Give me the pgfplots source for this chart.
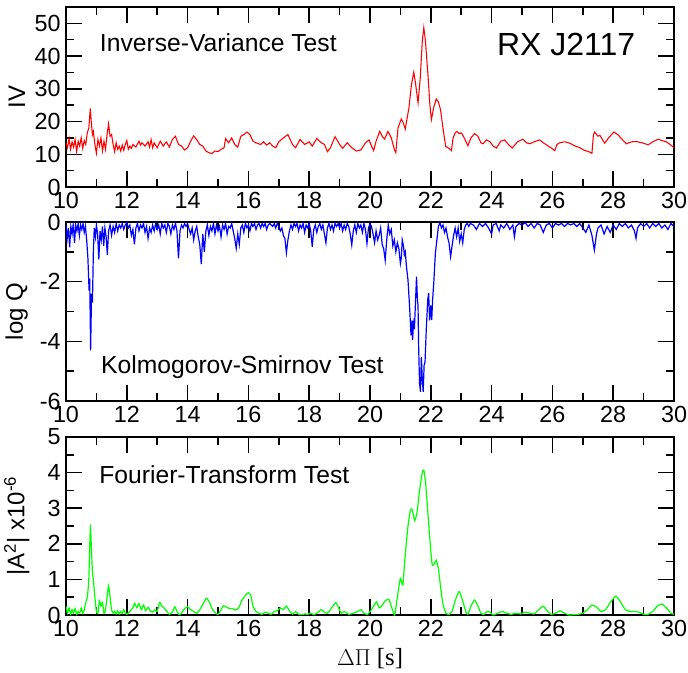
\documentclass[border=0pt]{standalone}
\usepackage{fontspec}
\setmainfont{Liberation Sans}
\newfontfamily\serif{Liberation Serif}
\usepackage{pgfplots}
\pgfplotsset{compat=1.18}

\pgfplotsset{
  panel/.style={
    scale only axis, width=456pt,
    xmin=10, xmax=30,
    xtick={10,12,...,30}, minor xtick={11,13,...,29},
    tick align=inside, major tick length=12pt, minor tick length=6pt,
    line width=1.4pt,
    tick style={line width=1.1pt, black},
    tick label style={font=\fontsize{17.5}{17.5}\selectfont},
    /pgf/number format/assume math mode=true,
    ylabel style={at={(axis description cs:-0.081,0.5)}, anchor=center,
      font=\fontsize{18}{18}\selectfont},
    anchor=north west,
  },
}
\tikzset{note/.style={anchor=west, font=\fontsize{18.5}{18.5}\selectfont}}

\begin{document}
\begin{tikzpicture}
\useasboundingbox (-49.5pt,5.25pt) rectangle (466.5pt,-499.5pt);

% Inverse-variance
\begin{axis}[panel, at={(0,0)}, height=135pt,
  ymin=0, ymax=55, ytick={0,10,...,50}, minor ytick={5,15,...,45},
  ylabel={IV}]
\addplot[red, line width=0.8pt] coordinates {
(10.00,13.5) (10.05,12.0) (10.10,14.8) (10.15,11.5) (10.20,13.8) (10.25,12.2)
(10.30,14.5) (10.35,10.8) (10.40,14.0) (10.45,12.5) (10.50,15.0) (10.55,11.8)
(10.60,14.2) (10.65,13.0) (10.70,16.5) (10.75,18.0) (10.80,24.0) (10.83,20.0)
(10.87,16.0) (10.90,17.0) (10.95,13.0) (11.00,10.3) (11.05,14.5) (11.10,12.5)
(11.15,15.0) (11.20,11.0) (11.25,14.0) (11.30,11.5) (11.35,16.0) (11.40,19.3)
(11.45,15.5) (11.50,16.0) (11.55,13.0) (11.60,10.8) (11.65,13.5) (11.70,11.5)
(11.75,12.5) (11.80,11.0) (11.85,12.8) (11.90,11.2) (11.95,13.0) (12.00,14.2)
(12.05,11.5) (12.10,12.5) (12.15,11.8) (12.20,13.0) (12.30,12.2) (12.40,14.0)
(12.45,12.8) (12.50,13.5) (12.60,12.5) (12.70,13.8) (12.75,12.2) (12.80,14.5)
(12.85,12.0) (12.90,13.5) (13.00,12.0) (13.10,14.0) (13.20,12.5) (13.30,13.8)
(13.40,12.2) (13.50,14.5) (13.60,15.5) (13.70,13.0) (13.80,12.5) (13.90,11.3)
(14.00,12.0) (14.10,14.0) (14.20,15.6) (14.30,14.5) (14.40,13.0) (14.50,12.5)
(14.60,11.0) (14.70,10.5) (14.80,10.2) (14.90,11.0) (15.00,10.8) (15.10,11.5)
(15.20,12.0) (15.25,14.8) (15.35,13.5) (15.45,15.0) (15.55,13.0) (15.65,12.2)
(15.75,15.5) (15.85,16.0) (15.95,16.8) (16.05,16.0) (16.15,14.0) (16.25,13.5)
(16.40,13.0) (16.50,13.8) (16.60,12.8) (16.70,13.5) (16.80,12.5) (16.90,12.0)
(17.00,13.8) (17.15,15.0) (17.30,16.0) (17.45,13.0) (17.55,12.0) (17.70,14.5)
(17.85,13.0) (18.00,13.8) (18.10,12.5) (18.25,14.8) (18.40,13.5) (18.50,13.0)
(18.60,10.8) (18.70,12.0) (18.85,15.4) (19.00,13.0) (19.10,11.8) (19.25,13.5)
(19.40,12.0) (19.55,11.0) (19.70,11.3) (19.85,13.5) (19.97,14.4) (20.05,12.5)
(20.12,11.1) (20.20,14.0) (20.32,17.0) (20.40,15.5) (20.48,14.6) (20.59,17.0)
(20.70,15.0) (20.80,11.5) (20.85,10.5) (20.92,18.0) (21.03,20.8) (21.10,19.5)
(21.16,17.7) (21.22,21.0) (21.28,24.1) (21.36,31.0) (21.44,35.1) (21.50,31.5)
(21.58,25.7) (21.65,33.0) (21.72,44.5) (21.77,48.7) (21.82,45.0) (21.91,33.8)
(21.97,25.0) (22.02,20.6) (22.10,24.5) (22.18,26.9) (22.25,26.0) (22.32,23.6)
(22.40,18.0) (22.49,12.4) (22.60,11.8) (22.68,11.1) (22.73,14.9) (22.80,16.5)
(22.86,17.0) (22.93,16.3) (23.01,16.5) (23.10,15.0) (23.22,12.6) (23.32,15.0)
(23.44,16.3) (23.55,15.5) (23.65,13.5) (23.72,13.2) (23.83,14.4) (23.95,13.8)
(24.05,12.5) (24.16,11.9) (24.30,14.0) (24.43,14.4) (24.55,13.0) (24.68,11.9)
(24.85,13.8) (25.03,14.6) (25.15,13.5) (25.25,13.2) (25.40,13.8) (25.58,14.4)
(25.70,13.5) (25.80,12.9) (25.95,12.0) (26.08,11.1) (26.15,13.0) (26.24,13.5)
(26.40,13.8) (26.57,13.4) (26.75,12.5) (26.90,12.0) (27.05,11.2) (27.20,10.8)
(27.30,10.3) (27.35,16.0) (27.39,16.8) (27.50,15.5) (27.56,15.8) (27.72,13.4)
(27.85,15.0) (28.02,16.8) (28.15,16.0) (28.30,14.5) (28.43,13.2) (28.60,13.8)
(28.76,13.9) (28.95,13.5) (29.15,12.9) (29.30,13.8) (29.48,14.6) (29.60,14.2)
(29.75,13.8) (29.90,12.8) (30.00,12.0)
};
\node[note] at (rel axis cs:0.047,0.80) {Inverse-Variance Test};
\node[anchor=east, font=\fontsize{24}{24}\selectfont] at (rel axis cs:0.945,0.79) {RX J2117};
\end{axis}

% Kolmogorov-Smirnov
\begin{axis}[panel, at={(0,-161.25pt)}, height=134.25pt,
  ymin=-6, ymax=0, ytick={-6,-4,-2,0}, minor ytick={-5,-3,-1},
  ylabel={log Q}]
\addplot[blue, line width=0.9pt] coordinates {
(10.00,-0.10) (10.04,-0.55) (10.08,-0.20) (10.12,-0.85) (10.16,-0.15) (10.20,-0.40)
(10.24,-0.05) (10.28,-0.70) (10.32,-0.10) (10.36,-0.30) (10.40,-0.05) (10.44,-0.45)
(10.48,-0.10) (10.52,-0.25) (10.56,-0.05) (10.60,-0.35) (10.64,-0.15) (10.68,-0.60)
(10.72,-1.20) (10.76,-2.30) (10.78,-1.90) (10.81,-4.30) (10.84,-2.40) (10.87,-2.70)
(10.90,-1.00) (10.93,-0.20) (10.97,-0.50) (11.00,-0.10) (11.04,-0.40) (11.08,-1.25)
(11.12,-0.30) (11.16,-0.60) (11.20,-0.15) (11.24,-0.80) (11.28,-0.20) (11.32,-0.50)
(11.36,-1.10) (11.40,-0.30) (11.45,-0.10) (11.50,-0.45) (11.55,-0.15) (11.60,-0.35)
(11.65,-0.05) (11.70,-0.30) (11.75,-0.10) (11.80,-0.20) (11.85,-0.05) (11.90,-0.25)
(11.95,-0.10) (12.00,-0.02) (12.05,-0.20) (12.10,-0.10) (12.15,-0.45) (12.20,-0.25)
(12.25,-0.75) (12.30,-0.20) (12.35,-0.05) (12.40,-0.30) (12.45,-0.10) (12.50,-0.20)
(12.55,-0.05) (12.60,-0.35) (12.65,-0.15) (12.70,-0.55) (12.75,-0.20) (12.80,-0.35)
(12.85,-0.10) (12.90,-0.30) (12.95,-0.05) (13.00,-0.25) (13.05,-0.10) (13.10,-0.40)
(13.15,-0.05) (13.20,-0.20) (13.25,-0.10) (13.30,-0.35) (13.35,-0.05) (13.40,-0.15)
(13.45,-0.40) (13.50,-0.10) (13.55,-0.25) (13.60,-0.05) (13.65,-0.30) (13.70,-1.22)
(13.75,-0.30) (13.80,-0.10) (13.85,-0.20) (13.90,-0.05) (13.95,-0.15) (14.00,-0.05)
(14.05,-0.25) (14.10,-0.40) (14.15,-0.20) (14.20,-0.60) (14.25,-0.30) (14.30,-0.15)
(14.35,-0.50) (14.40,-0.75) (14.45,-1.41) (14.50,-0.40) (14.55,-1.00) (14.60,-0.30)
(14.65,-0.10) (14.70,-0.45) (14.75,-0.15) (14.80,-0.30) (14.85,-0.05) (14.90,-0.40)
(14.95,-0.10) (15.00,-0.30) (15.05,-0.15) (15.10,-0.50) (15.15,-0.10) (15.20,-0.25)
(15.25,-0.05) (15.30,-0.40) (15.35,-0.15) (15.40,-0.20) (15.45,-0.05) (15.50,-0.30)
(15.55,-0.55) (15.60,-0.88) (15.65,-0.40) (15.70,-0.75) (15.75,-0.20) (15.80,-0.10)
(15.85,-0.35) (15.90,-0.05) (15.95,-0.20) (16.00,-0.10) (16.05,-0.30) (16.10,-0.05)
(16.15,-0.15) (16.20,-0.05) (16.25,-0.25) (16.30,-0.10) (16.35,-0.05) (16.40,-0.20)
(16.45,-0.05) (16.50,-0.15) (16.55,-0.05) (16.60,-0.25) (16.65,-0.10) (16.70,-0.05)
(16.80,-0.15) (16.85,-0.05) (16.90,-0.20) (16.95,-0.05) (17.00,-0.15) (17.05,-0.30)
(17.10,-0.20) (17.15,-0.45) (17.20,-0.55) (17.25,-1.03) (17.30,-0.60) (17.35,-0.30)
(17.40,-0.10) (17.45,-0.25) (17.50,-0.05) (17.55,-0.15) (17.60,-0.05) (17.65,-0.30)
(17.70,-0.10) (17.75,-0.20) (17.80,-0.05) (17.85,-0.35) (17.90,-0.10) (17.95,-0.20)
(18.00,-0.05) (18.05,-0.30) (18.10,-0.83) (18.15,-0.25) (18.20,-0.10) (18.25,-0.35)
(18.30,-0.15) (18.35,-0.05) (18.40,-0.25) (18.45,-0.10) (18.50,-0.40) (18.55,-0.70)
(18.60,-0.20) (18.65,-0.05) (18.70,-0.25) (18.75,-0.10) (18.80,-0.30) (18.85,-0.05)
(18.90,-0.15) (18.95,-0.05) (19.00,-0.20) (19.05,-0.05) (19.10,-0.30) (19.15,-0.10)
(19.20,-0.25) (19.25,-0.05) (19.30,-0.15) (19.35,-0.40) (19.40,-0.77) (19.45,-0.30)
(19.50,-0.10) (19.55,-0.35) (19.60,-0.05) (19.65,-0.20) (19.70,-0.10) (19.75,-0.35)
(19.80,-0.05) (19.85,-0.25) (19.90,-0.72) (19.95,-0.20) (20.00,-0.05) (20.05,-0.15)
(20.10,-0.40) (20.15,-0.70) (20.20,-0.30) (20.25,-0.60) (20.30,-0.45) (20.35,-0.20)
(20.40,-0.75) (20.45,-0.90) (20.50,-1.28) (20.55,-0.60) (20.60,-0.10) (20.65,-0.40)
(20.70,-0.25) (20.75,-0.80) (20.80,-0.60) (20.85,-1.00) (20.90,-0.70) (20.95,-0.90)
(21.00,-1.39) (21.03,-1.20) (21.06,-0.60) (21.10,-0.80) (21.13,-1.10) (21.16,-1.00)
(21.20,-1.50) (21.25,-1.95) (21.30,-2.80) (21.35,-3.80) (21.38,-3.30) (21.40,-3.96)
(21.43,-3.40) (21.46,-3.60) (21.50,-2.60) (21.53,-1.83) (21.56,-2.60) (21.58,-2.80)
(21.60,-4.20) (21.63,-5.41) (21.66,-5.69) (21.69,-4.52) (21.72,-5.30) (21.75,-5.69)
(21.78,-4.80) (21.81,-4.70) (21.85,-3.62) (21.90,-2.60) (21.93,-2.39) (21.96,-3.30)
(22.00,-2.80) (22.03,-3.29) (22.06,-2.60) (22.10,-2.00) (22.15,-1.05) (22.20,-0.60)
(22.25,-0.15) (22.30,-0.02) (22.35,-0.20) (22.40,-0.10) (22.45,-0.35) (22.50,-0.20)
(22.55,-0.50) (22.60,-0.70) (22.65,-1.16) (22.70,-0.80) (22.75,-0.45) (22.80,-0.20)
(22.85,-0.50) (22.90,-0.20) (22.95,-0.65) (23.00,-0.40) (23.05,-0.70) (23.10,-0.25)
(23.15,-0.10) (23.20,-0.05) (23.25,-0.15) (23.30,-0.05) (23.40,-0.10) (23.50,-0.25)
(23.60,-0.05) (23.70,-0.15) (23.80,-0.05) (23.90,-0.20) (24.00,-0.40) (24.05,-0.10)
(24.15,-0.05) (24.25,-0.30) (24.30,-0.10) (24.40,-0.20) (24.50,-0.05) (24.60,-0.25)
(24.70,-0.10) (24.75,-0.50) (24.80,-0.15) (24.90,-0.05) (25.00,-0.10) (25.10,-0.02)
(25.20,-0.15) (25.30,-0.05) (25.40,-0.20) (25.50,-0.05) (25.60,-0.10) (25.70,-0.35)
(25.80,-0.10) (25.90,-0.05) (26.00,-0.20) (26.10,-0.05) (26.20,-0.10) (26.30,-0.05)
(26.40,-0.15) (26.50,-0.05) (26.60,-0.10) (26.70,-0.05) (26.80,-0.15) (26.90,-0.05)
(27.00,-0.20) (27.10,-0.35) (27.20,-0.10) (27.30,-0.45) (27.38,-0.94) (27.45,-0.40)
(27.50,-0.20) (27.60,-0.10) (27.70,-0.40) (27.80,-0.15) (27.90,-0.35) (28.00,-0.10)
(28.10,-0.25) (28.20,-0.05) (28.30,-0.15) (28.40,-0.05) (28.50,-0.20) (28.60,-0.10)
(28.70,-0.30) (28.75,-0.55) (28.80,-0.20) (28.90,-0.05) (29.00,-0.15) (29.10,-0.05)
(29.20,-0.20) (29.30,-0.05) (29.40,-0.15) (29.50,-0.05) (29.60,-0.20) (29.70,-0.10)
(29.80,-0.25) (29.90,-0.05) (30.00,-0.15)
};
\node[note] at (rel axis cs:0.049,0.19) {Kolmogorov-Smirnov Test};
\end{axis}

% Fourier transform
\begin{axis}[panel, at={(0,-322.5pt)}, height=133.5pt,
  ymin=0, ymax=5, ytick={0,1,...,5}, minor ytick={0.5,1.5,...,4.5},
  ylabel={|A\textsuperscript{2}| x10\textsuperscript{-6}},
  xlabel={{\serif $\Delta\Pi$ [s]}},
  xlabel style={font=\fontsize{18.5}{18.5}\selectfont, yshift=-1pt}]
\addplot[green, line width=0.9pt, smooth, tension=0.35] coordinates {
(10.00,0.25) (10.05,0.05) (10.10,0.20) (10.15,0.02) (10.20,0.15) (10.25,0.05)
(10.30,0.18) (10.35,0.02) (10.40,0.10) (10.45,0.05) (10.50,0.20) (10.55,0.05)
(10.60,0.15) (10.65,0.35) (10.70,0.50) (10.75,1.00) (10.80,2.46) (10.83,2.00)
(10.87,1.20) (10.90,1.00) (10.95,0.50) (11.00,0.10) (11.05,0.05) (11.10,0.40)
(11.15,0.25) (11.20,0.35) (11.25,0.05) (11.30,0.15) (11.35,0.50) (11.40,0.82)
(11.45,0.50) (11.50,0.15) (11.55,0.05) (11.60,0.10) (11.65,0.03) (11.70,0.12)
(11.75,0.03) (11.80,0.10) (11.85,0.05) (11.90,0.15) (11.95,0.05) (12.00,0.02)
(12.10,0.10) (12.20,0.20) (12.26,0.33) (12.33,0.20) (12.40,0.32) (12.48,0.15)
(12.55,0.28) (12.62,0.12) (12.70,0.22) (12.78,0.10) (12.85,0.08) (12.92,0.15)
(13.00,0.10) (13.08,0.35) (13.15,0.25) (13.22,0.20) (13.30,0.12) (13.40,0.02)
(13.50,0.08) (13.58,0.23) (13.65,0.10) (13.72,0.01) (13.80,0.05) (13.90,0.18)
(14.00,0.23) (14.10,0.15) (14.20,0.10) (14.30,0.05) (14.40,0.15) (14.50,0.30)
(14.62,0.47) (14.72,0.35) (14.82,0.15) (14.92,0.05) (15.00,0.02) (15.10,0.15)
(15.18,0.26) (15.28,0.22) (15.38,0.18) (15.48,0.18) (15.58,0.14) (15.68,0.20)
(15.78,0.40) (15.90,0.55) (16.00,0.63) (16.08,0.55) (16.15,0.25) (16.25,0.10)
(16.35,0.05) (16.45,0.02) (16.55,0.08) (16.65,0.05) (16.75,0.02) (16.85,0.10)
(16.95,0.12) (17.05,0.20) (17.15,0.15) (17.25,0.25) (17.35,0.12) (17.45,0.02)
(17.55,0.10) (17.65,0.02) (17.75,0.01) (17.85,0.03) (17.95,0.02) (18.05,0.05)
(18.15,0.01) (18.25,0.05) (18.40,0.15) (18.50,0.08) (18.60,0.05) (18.70,0.15)
(18.87,0.35) (18.97,0.20) (19.05,0.05) (19.15,0.10) (19.30,0.02) (19.45,0.05)
(19.60,0.10) (19.70,0.15) (19.80,0.05) (19.92,0.02) (20.05,0.15) (20.15,0.30)
(20.22,0.37) (20.30,0.20) (20.38,0.25) (20.50,0.40) (20.62,0.44) (20.70,0.25)
(20.81,0.00) (20.90,0.50) (21.00,1.03) (21.08,0.84) (21.15,1.60) (21.25,2.50)
(21.33,2.95) (21.39,2.95) (21.47,2.65) (21.55,2.90) (21.63,3.50) (21.72,4.00)
(21.77,4.07) (21.83,3.70) (21.91,2.80) (22.00,1.80) (22.05,1.40) (22.12,1.45)
(22.18,1.54) (22.25,1.30) (22.32,0.80) (22.40,0.30) (22.50,0.05) (22.60,0.02)
(22.70,0.10) (22.80,0.40) (22.93,0.66) (23.03,0.45) (23.15,0.10) (23.22,0.02)
(23.32,0.25) (23.44,0.42) (23.55,0.25) (23.65,0.05) (23.75,0.02) (23.85,0.10)
(23.95,0.08) (24.05,0.00) (24.20,0.05) (24.35,0.10) (24.50,0.05) (24.65,0.02)
(24.80,0.05) (24.95,0.03) (25.10,0.08) (25.25,0.05) (25.40,0.03) (25.55,0.15)
(25.69,0.25) (25.80,0.15) (25.95,0.02) (26.10,0.05) (26.25,0.12) (26.40,0.05)
(26.55,0.00) (26.70,0.01) (26.85,0.02) (27.00,0.05) (27.15,0.15) (27.30,0.28)
(27.45,0.22) (27.60,0.10) (27.75,0.15) (27.90,0.35) (28.09,0.53) (28.25,0.35)
(28.40,0.15) (28.55,0.10) (28.70,0.10) (28.85,0.08) (29.00,0.02) (29.15,0.02)
(29.30,0.10) (29.45,0.25) (29.61,0.31) (29.75,0.20) (29.90,0.05) (30.00,0.02)
};
\node[note] at (rel axis cs:0.046,0.79) {Fourier-Transform Test};
\end{axis}
\end{tikzpicture}
\end{document}
